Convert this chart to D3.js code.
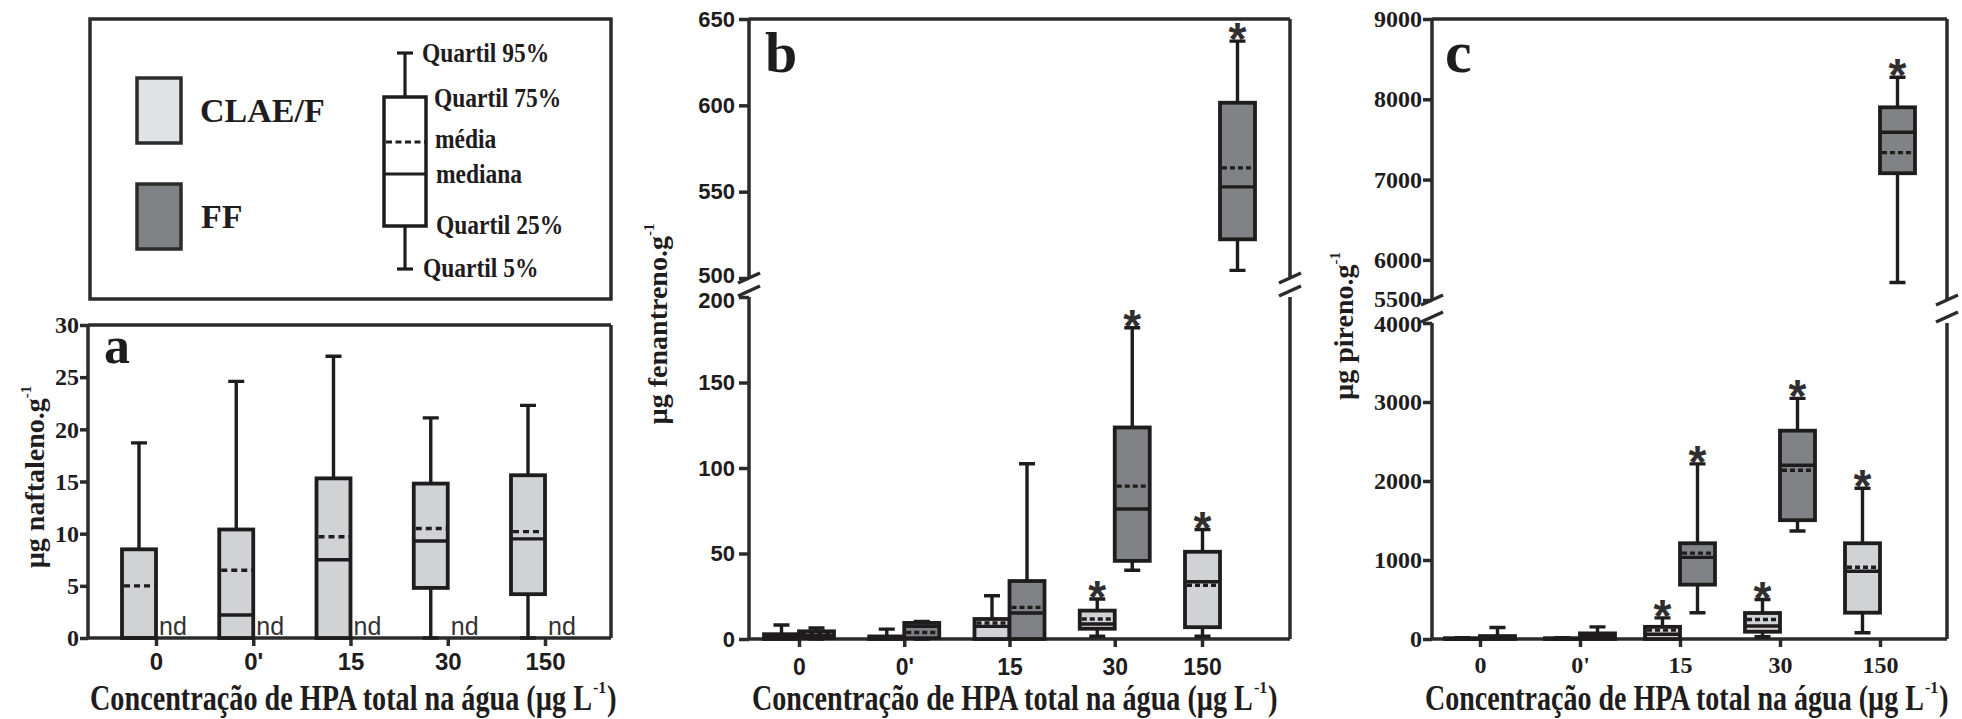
<!DOCTYPE html>
<html>
<head>
<meta charset="utf-8">
<script src="https://cdn.jsdelivr.net/npm/d3@7"></script>
<style>
  body { margin: 0; background: #fff; }
  svg { display: block; }
</style>
</head>
<body>
<div id="fig"></div>
<script>
// categories on the x axis (total PAH in water, ug/L)
var categories = ["0", "0'", "15", "30", "150"];

// (a) naftaleno - CLAE/F only, FF not detected (nd)
var naf_clae_p5   = [0, 0, 0, 0, 0];
var naf_clae_q25  = [0, 0, 0, 4.8, 4.2];
var naf_clae_med  = [0, 2.2, 7.5, 9.3, 9.5];
var naf_clae_mean = [5.0, 6.5, 9.7, 10.5, 10.2];
var naf_clae_q75  = [8.5, 10.4, 15.3, 14.8, 15.6];
var naf_clae_p95  = [18.7, 24.6, 27.0, 21.1, 22.3];
var naf_ff_nd     = [1, 1, 1, 1, 1];

// (b) fenantreno
var fen_clae_p5   = [0, 0, 0, 1.6, 1.6];
var fen_clae_q25  = [0, 0, 0, 6.0, 6.9];
var fen_clae_med  = [1.0, 0.5, 7.4, 8.8, 33.5];
var fen_clae_mean = [1.5, 1.0, 9.4, 11.7, 31.4];
var fen_clae_q75  = [2.8, 1.5, 11.7, 16.6, 51.0];
var fen_clae_p95  = [8.2, 5.8, 25.3, 23.4, 64.0];
var fen_clae_star = [0, 0, 0, 1, 1];

var fen_ff_p5   = [0, 0, 0, 40.2, 504.4];
var fen_ff_q25  = [0.5, 0.5, 0, 45.7, 522.4];
var fen_ff_med  = [2.0, 7.4, 15.2, 76, 552.8];
var fen_ff_mean = [2.5, 3.8, 18.5, 89.4, 563.8];
var fen_ff_q75  = [4.5, 9.4, 33.9, 123.7, 601.5];
var fen_ff_p95  = [6.4, 10.3, 102.5, 182, 637.2];
var fen_ff_star = [0, 0, 0, 1, 1];

// (c) pireno
var pir_clae_p5   = [0, 0, 0, 29, 79];
var pir_clae_q25  = [0, 0, 0, 92, 333];
var pir_clae_med  = [0, 0, 60, 165, 858];
var pir_clae_mean = [5, 5, 112, 246, 908];
var pir_clae_q75  = [10, 10, 154, 329, 1212];
var pir_clae_p95  = [15, 15, 267, 500, 1908];
var pir_clae_star = [0, 0, 1, 1, 1];

var pir_ff_p5   = [0, 0, 333, 1367, 5718];
var pir_ff_q25  = [0, 0, 688, 1504, 7079];
var pir_ff_med  = [15, 30, 1033, 2200, 7589];
var pir_ff_mean = [20, 40, 1087, 2137, 7336];
var pir_ff_q75  = [37, 71, 1212, 2637, 7900];
var pir_ff_p95  = [146, 154, 2217, 3046, 8274];
var pir_ff_star = [0, 0, 1, 1, 1];

var ink = '#1f1c1d';
var light = '#d1d2d4';
var dark = '#808285';
var serif = '"Liberation Serif", "Times New Roman", serif';
var sans = '"Liberation Sans", Arial, sans-serif';

var svg = d3.select('#fig').append('svg')
    .attr('width', 1962)
    .attr('height', 719);

svg.append('rect').attr('width', 1962).attr('height', 719).attr('fill', '#fff');

// squeeze a text horizontally (the original uses a narrow bold face)
function squeeze(sel, k) {
    sel.each(function() {
        var t = d3.select(this);
        var x = +t.attr('x'), y = +t.attr('y');
        t.attr('x', 0).attr('y', 0)
            .attr('transform', 'translate(' + x + ',' + y + ') scale(' + k + ',1)');
    });
}

function stats(p5, q25, med, mean, q75, p95, star) {
    return categories.map(function(c, i) {
        return { cat: c, p5: p5[i], q25: q25[i], med: med[i], mean: mean[i],
                 q75: q75[i], p95: p95[i], star: star ? star[i] : 0 };
    });
}

// ---------- legend ----------
function legend() {
    var g = svg.append('g');
    g.append('rect').attr('x', 90).attr('y', 19).attr('width', 521).attr('height', 280)
        .attr('fill', 'none').attr('stroke', '#2b2b2b').attr('stroke-width', 3.5);

    var sw = g.append('g').attr('stroke', '#2b2b2b').attr('stroke-width', 3.5);
    sw.append('rect').attr('x', 137).attr('y', 78).attr('width', 44).attr('height', 65)
        .attr('fill', '#e1e2e4');
    sw.append('rect').attr('x', 137).attr('y', 184).attr('width', 44).attr('height', 65)
        .attr('fill', '#808184');

    g.append('text').attr('x', 200).attr('y', 122).text('CLAE/F')
        .style('font-family', serif).style('font-weight', 700).style('font-size', '34px').attr('fill', ink);
    g.append('text').attr('x', 201).attr('y', 228).text('FF')
        .style('font-family', serif).style('font-weight', 700).style('font-size', '34px').attr('fill', ink);

    // box glyph
    var cx = 405;
    var bg = g.append('g').attr('stroke', ink).attr('stroke-width', 3.2);
    bg.append('line').attr('x1', cx).attr('x2', cx).attr('y1', 53).attr('y2', 97);
    bg.append('line').attr('x1', cx).attr('x2', cx).attr('y1', 226).attr('y2', 269);
    bg.append('line').attr('x1', cx - 8).attr('x2', cx + 8).attr('y1', 53).attr('y2', 53);
    bg.append('line').attr('x1', cx - 8).attr('x2', cx + 8).attr('y1', 269).attr('y2', 269);
    bg.append('rect').attr('x', 384).attr('y', 97).attr('width', 42).attr('height', 129)
        .attr('fill', '#fff').attr('stroke-width', 3.5);
    bg.append('line').attr('x1', 384).attr('x2', 426).attr('y1', 174).attr('y2', 174);
    bg.append('line').attr('x1', 386).attr('x2', 426).attr('y1', 142).attr('y2', 142)
        .attr('stroke-dasharray', '6,3.5');

    var labels = [
        { t: 'Quartil 95%', x: 422, y: 62 },
        { t: 'Quartil 75%', x: 434, y: 107 },
        { t: 'média', x: 435, y: 148 },
        { t: 'mediana', x: 436, y: 183 },
        { t: 'Quartil 25%', x: 436, y: 234 },
        { t: 'Quartil 5%', x: 423, y: 277 }
    ];
    g.selectAll('text.lab').data(labels).enter().append('text')
        .attr('class', 'lab')
        .attr('x', function(d) { return d.x; })
        .attr('y', function(d) { return d.y; })
        .text(function(d) { return d.t; })
        .style('font-family', serif).style('font-weight', 700).style('font-size', '27px')
        .attr('fill', ink)
        .call(squeeze, 0.87);
}

// ---------- panel ----------
function panel(cfg, series) {
    var g = svg.append('g');
    var lo = d3.scaleLinear().domain(cfg.lowDomain).range([cfg.bottom, cfg.lowTop]);
    var up = cfg.upDomain ? d3.scaleLinear().domain(cfg.upDomain).range([cfg.upBottom, cfg.top]) : null;
    var y = function(v) { return (up && v > cfg.lowDomain[1]) ? up(v) : lo(v); };
    var x = d3.scalePoint().domain(categories).range(cfg.xRange);
    var w = cfg.boxW;

    // frame
    var frame = g.append('g').attr('stroke', '#2b2b2b').attr('stroke-width', 3.5).attr('fill', 'none');
    frame.append('line').attr('x1', cfg.left).attr('x2', cfg.right).attr('y1', cfg.top).attr('y2', cfg.top);
    frame.append('line').attr('x1', cfg.left).attr('x2', cfg.right).attr('y1', cfg.bottom).attr('y2', cfg.bottom);
    if (up) {
        [cfg.left, cfg.right].forEach(function(xx) {
            frame.append('line').attr('x1', xx).attr('x2', xx).attr('y1', cfg.top).attr('y2', cfg.upBottom);
            frame.append('line').attr('x1', xx).attr('x2', xx).attr('y1', cfg.lowTop).attr('y2', cfg.bottom);
            frame.append('line').attr('x1', xx - 11).attr('x2', xx + 11)
                .attr('y1', cfg.upBottom + 5).attr('y2', cfg.upBottom - 5);
            frame.append('line').attr('x1', xx - 11).attr('x2', xx + 11)
                .attr('y1', cfg.lowTop - 1).attr('y2', cfg.lowTop - 11);
        });
    } else {
        frame.append('line').attr('x1', cfg.left).attr('x2', cfg.left).attr('y1', cfg.top).attr('y2', cfg.bottom);
        frame.append('line').attr('x1', cfg.right).attr('x2', cfg.right).attr('y1', cfg.top).attr('y2', cfg.bottom);
    }

    // y axis
    function yAxis(scale, ticks, nudge) {
        var ax = g.append('g').attr('transform', 'translate(' + cfg.left + ',0)')
            .call(d3.axisLeft(scale).tickValues(ticks).tickSize(cfg.tickSize)
                .tickSizeOuter(0).tickPadding(cfg.tickPad).tickFormat(d3.format('d')));
        ax.select('.domain').remove();
        ax.selectAll('line').attr('stroke', '#2b2b2b').attr('stroke-width', 3.5);
        ax.selectAll('text').attr('fill', ink)
            .style('font-family', cfg.tickFont).style('font-weight', 700)
            .style('font-size', cfg.tickFontSize + 'px');
        // labels next to the axis break are pushed apart a little
        if (nudge) {
            ax.selectAll('text').filter(function(d) { return d === nudge.value; })
                .attr('y', nudge.dy);
        }
    }
    yAxis(lo, cfg.ticksLow, up ? { value: cfg.lowDomain[1], dy: cfg.breakNudge } : null);
    if (up) yAxis(up, cfg.ticksUp, { value: cfg.upDomain[0], dy: -cfg.breakNudge });

    // x axis
    var xa = g.append('g').attr('transform', 'translate(0,' + cfg.bottom + ')')
        .call(d3.axisBottom(x).tickSize(8).tickSizeOuter(0));
    xa.select('.domain').remove();
    xa.selectAll('line').attr('stroke', '#2b2b2b').attr('stroke-width', 3.5);
    xa.selectAll('text').attr('fill', ink).attr('y', cfg.xLabelY - cfg.bottom).attr('dy', 0)
        .style('font-family', cfg.xFont).style('font-weight', 700)
        .style('font-size', cfg.xFontSize + 'px');
    if (cfg.lastTickShift) {
        xa.selectAll('.tick').filter(function(d) { return d === categories[categories.length - 1]; })
            .attr('transform', 'translate(' + (x(categories[categories.length - 1]) + cfg.lastTickShift) + ',0)');
    }

    // boxes
    series.forEach(function(s) {
        var sg = g.append('g');
        var data = s.data.filter(function(d) { return d.q75 != null; });
        var bx = function(d) { return x(d.cat) + (s.side < 0 ? -w : 0); };
        var cx = function(d) { return bx(d) + w / 2; };

        sg.selectAll('.wu').data(data).enter().append('path')
            .attr('d', function(d) {
                return 'M' + cx(d) + ',' + y(d.q75) + 'V' + y(d.p95) +
                    'M' + (cx(d) - 8) + ',' + y(d.p95) + 'H' + (cx(d) + 8);
            });
        sg.selectAll('.wl').data(data.filter(function(d) { return d.p5 < d.q25; })).enter().append('path')
            .attr('d', function(d) {
                return 'M' + cx(d) + ',' + y(d.q25) + 'V' + y(d.p5) +
                    'M' + (cx(d) - 8) + ',' + y(d.p5) + 'H' + (cx(d) + 8);
            });
        sg.selectAll('path').attr('fill', 'none').attr('stroke', ink).attr('stroke-width', 3.4);

        sg.selectAll('rect').data(data).enter().append('rect')
            .attr('x', bx)
            .attr('y', function(d) { return y(d.q75); })
            .attr('width', w)
            .attr('height', function(d) { return Math.max(0, y(d.q25) - y(d.q75)); })
            .attr('fill', s.fill).attr('stroke', ink).attr('stroke-width', 3.8);

        sg.selectAll('.med').data(data).enter().append('line')
            .attr('x1', bx).attr('x2', function(d) { return bx(d) + w; })
            .attr('y1', function(d) { return y(d.med); }).attr('y2', function(d) { return y(d.med); })
            .attr('stroke', ink).attr('stroke-width', 3.4);
        sg.selectAll('.mean').data(data).enter().append('line')
            .attr('x1', function(d) { return bx(d) + 2; }).attr('x2', function(d) { return bx(d) + w - 1; })
            .attr('y1', function(d) { return y(d.mean); }).attr('y2', function(d) { return y(d.mean); })
            .attr('stroke', ink).attr('stroke-width', 3.4).attr('stroke-dasharray', cfg.dash);

        sg.selectAll('.star').data(data.filter(function(d) { return d.star; })).enter().append('text')
            .attr('x', cx)
            .attr('y', function(d) { return y(d.p95) + 14; })
            .attr('text-anchor', 'middle')
            .text('*')
            .style('font-family', sans).style('font-weight', 700).style('font-size', '46px')
            .attr('fill', '#2f2f2f');

        if (s.nd) {
            sg.selectAll('.nd').data(categories.filter(function(c, i) { return s.nd[i]; })).enter().append('text')
                .attr('x', function(c) { return x(c) + 3; })
                .attr('y', cfg.bottom - 3)
                .text('nd')
                .style('font-family', sans).style('font-size', '25px')
                .attr('fill', '#333');
        }
    });

    // panel letter
    g.append('text').attr('x', cfg.letterX).attr('y', cfg.letterY).text(cfg.letter)
        .style('font-family', serif).style('font-weight', 700).style('font-size', cfg.letterSize + 'px')
        .attr('fill', ink);

    // y title
    var yt = g.append('text')
        .attr('transform', 'translate(' + cfg.yTitleX + ',' + cfg.yTitleY + ') rotate(-90)')
        .attr('text-anchor', 'middle')
        .style('font-family', serif).style('font-weight', 700).style('font-size', '28px')
        .attr('fill', ink);
    yt.append('tspan').text(cfg.yTitle);
    yt.append('tspan').attr('dy', -13).style('font-size', '15px').text('-1');

    // x title: main text squeezed to width, then superscript and closing bracket
    var mainW = cfg.xTitleW - 27;
    var xt = g.append('text').attr('x', cfg.xTitleX).attr('y', 710)
        .style('font-family', serif).style('font-weight', 700).style('font-size', '36px')
        .attr('fill', ink)
        .text('Concentração de HPA total na água (µg L');
    var natural = xt.node().getComputedTextLength();
    xt.call(squeeze, mainW / natural);
    var xEnd = cfg.xTitleX + mainW;
    g.append('text').attr('x', xEnd + 1).attr('y', 693)
        .style('font-family', serif).style('font-weight', 700).style('font-size', '16px')
        .attr('fill', ink).text('-1');
    g.append('text').attr('x', xEnd + 15).attr('y', 710)
        .style('font-family', serif).style('font-weight', 700).style('font-size', '36px')
        .attr('fill', ink).text(')')
        .call(squeeze, 0.8);
}

legend();

panel({
    left: 88, right: 611, top: 325, bottom: 638,
    xRange: [156, 545], boxW: 34,
    lowDomain: [0, 30], lowTop: 325, ticksLow: [0, 5, 10, 15, 20, 25, 30],
    tickFont: serif, tickFontSize: 24, tickSize: 8, tickPad: 1,
    xFont: sans, xFontSize: 24, xLabelY: 670, dash: '6,4',
    letter: 'a', letterX: 104, letterY: 363, letterSize: 52,
    yTitle: 'µg naftaleno.g', yTitleX: 44, yTitleY: 477,
    xTitleX: 90, xTitleW: 529
}, [
    { side: -1, fill: light, data: stats(naf_clae_p5, naf_clae_q25, naf_clae_med, naf_clae_mean, naf_clae_q75, naf_clae_p95) },
    { side: 1, fill: dark, data: [], nd: naf_ff_nd }
]);

panel({
    left: 749, right: 1290, top: 19, bottom: 639,
    xRange: [799, 1220], boxW: 35,
    lowDomain: [0, 200], lowTop: 297, ticksLow: [0, 50, 100, 150, 200],
    upDomain: [500, 650], upBottom: 278, ticksUp: [500, 550, 600, 650], breakNudge: 3,
    tickFont: sans, tickFontSize: 22, tickSize: 10, tickPad: 4,
    xFont: sans, xFontSize: 23, xLabelY: 675, dash: '5,3', lastTickShift: -17.5,
    letter: 'b', letterX: 765, letterY: 72, letterSize: 58,
    yTitle: 'µg fenantreno.g', yTitleX: 667, yTitleY: 324,
    xTitleX: 752, xTitleW: 528
}, [
    { side: -1, fill: light, data: stats(fen_clae_p5, fen_clae_q25, fen_clae_med, fen_clae_mean, fen_clae_q75, fen_clae_p95, fen_clae_star) },
    { side: 1, fill: dark, data: stats(fen_ff_p5, fen_ff_q25, fen_ff_med, fen_ff_mean, fen_ff_q75, fen_ff_p95, fen_ff_star) }
]);

panel({
    left: 1432, right: 1947, top: 19, bottom: 639,
    xRange: [1480, 1880], boxW: 35,
    lowDomain: [0, 4000], lowTop: 323, ticksLow: [0, 1000, 2000, 3000, 4000],
    upDomain: [5500, 9000], upBottom: 300, ticksUp: [5500, 6000, 7000, 8000, 9000], breakNudge: 1,
    tickFont: serif, tickFontSize: 24, tickSize: 9, tickPad: 1,
    xFont: serif, xFontSize: 24, xLabelY: 673, dash: '5,3',
    letter: 'c', letterX: 1445, letterY: 72, letterSize: 60,
    yTitle: 'µg pireno.g', yTitleX: 1353, yTitleY: 326,
    xTitleX: 1425, xTitleW: 526
}, [
    { side: -1, fill: light, data: stats(pir_clae_p5, pir_clae_q25, pir_clae_med, pir_clae_mean, pir_clae_q75, pir_clae_p95, pir_clae_star) },
    { side: 1, fill: dark, data: stats(pir_ff_p5, pir_ff_q25, pir_ff_med, pir_ff_mean, pir_ff_q75, pir_ff_p95, pir_ff_star) }
]);
</script>
</body>
</html>
